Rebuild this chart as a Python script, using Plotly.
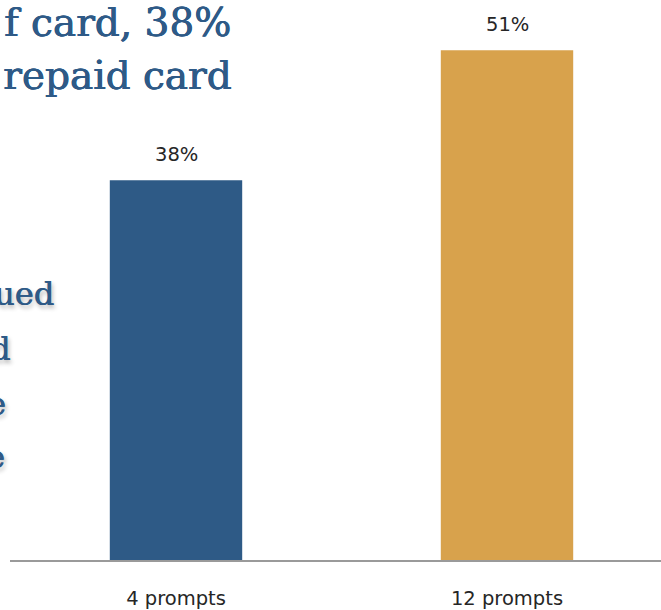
import plotly.graph_objects as go

categories = ["4 prompts", "12 prompts"]
values = [38, 51]
value_labels = ["38%", "51%"]
bar_colors = ["#2E5A86", "#D8A24C"]

title_lines = ["f card, 38%", "repaid card"]
side_lines = ["ued", "d", "e", "e"]

W, H = 661, 610
ML, MR, MT, MB = 10, 0, 0, 48
PW, PH = W - ML - MR, H - MT - MB


def px(x):
    return (x - ML) / PW


def py(y):
    return (H - MB - y) / PH


BLUE = "#2E5A87"
thick = f"0.7px 0 0 {BLUE}, 0 0.4px 0 {BLUE}"

fig = go.Figure()
fig.add_trace(go.Bar(
    x=categories, y=values, marker=dict(color=bar_colors, line=dict(width=0)),
    width=0.4, hoverinfo="skip",
))

annotations = []
for c, v, t in zip(categories, values, value_labels):
    annotations.append(dict(
        x=c, y=v, xref="x", yref="y", text=t, showarrow=False,
        yanchor="bottom", yshift=12,
        font=dict(family="DejaVu Sans", size=19.5, color="#262626"),
    ))

title_y = [23, 76]
for txt, yy in zip(title_lines, title_y):
    annotations.append(dict(
        x=px(233), y=py(yy), xref="paper", yref="paper", text=txt,
        showarrow=False, xanchor="right", yanchor="middle",
        font=dict(family="DejaVu Serif", size=39, color=BLUE, shadow=thick),
    ))

side_y = [295, 350, 405, 459]
side_r = [56, 12, 8, 7]
for txt, yy, rr in zip(side_lines, side_y, side_r):
    annotations.append(dict(
        x=px(rr), y=py(yy), xref="paper", yref="paper", text=txt,
        showarrow=False, xanchor="right", yanchor="middle",
        font=dict(family="DejaVu Serif", size=32, color=BLUE,
                  shadow=f"0.6px 0 0 {BLUE}, 2px 3px 4px rgba(0,0,0,0.3)"),
    ))

fig.update_layout(
    width=W, height=H,
    margin=dict(l=ML, r=MR, t=MT, b=MB),
    paper_bgcolor="white", plot_bgcolor="white",
    showlegend=False,
    annotations=annotations,
    xaxis=dict(
        range=[-(176 - ML) / 331, (W - 176) / 331],
        showline=True, linecolor="#9A9A9A", linewidth=1.5,
        showgrid=False, zeroline=False, ticks="",
        ticklabelstandoff=20,
        tickfont=dict(family="DejaVu Sans", size=19.5, color="#262626"),
    ),
    yaxis=dict(
        range=[0, (H - MB - MT) / 10.03],
        visible=False, showgrid=False, zeroline=False,
    ),
)

fig.write_html(
    "out.html",
    config={"displayModeBar": False},
    post_script="document.body.style.margin='0';document.body.style.overflow='hidden';",
)
